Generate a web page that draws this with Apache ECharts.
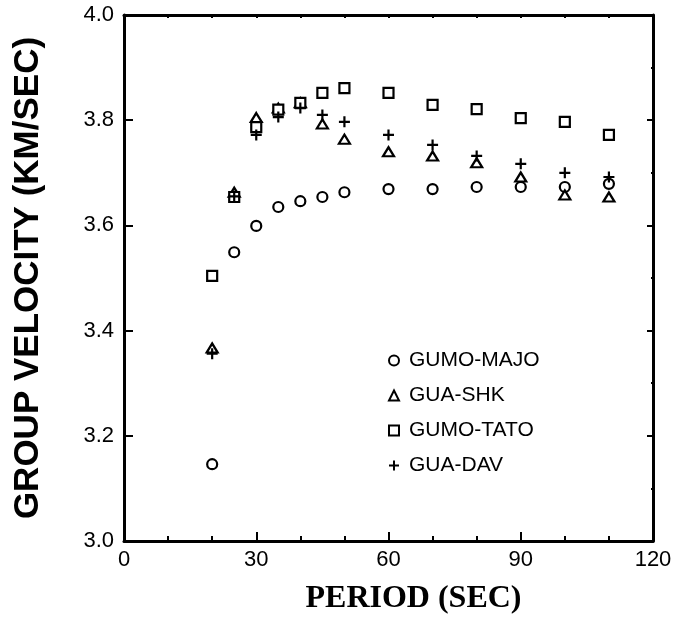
<!DOCTYPE html>
<html>
<head>
<meta charset="utf-8">
<script src="https://cdn.jsdelivr.net/npm/echarts@6/dist/echarts.min.js"></script>
<style>
  html, body { margin: 0; padding: 0; background: #fff; }
  #chart { width: 678px; height: 620px; }
</style>
</head>
<body>
<div id="chart"></div>
<script>
// periods (sec)
var periods = [20, 25, 30, 35, 40, 45, 50, 60, 70, 80, 90, 100, 110];
// group velocity (km/sec)
var gumoMajo = [3.146, 3.549, 3.599, 3.635, 3.646, 3.654, 3.663, 3.669, 3.669, 3.673, 3.673, 3.673, 3.679];
var guaShk   = [3.367, 3.663, 3.805, 3.823, 3.833, 3.793, 3.764, 3.740, 3.732, 3.719, 3.692, 3.658, 3.654];
var gumoTato = [3.504, 3.654, 3.787, 3.820, 3.833, 3.852, 3.861, 3.852, 3.829, 3.821, 3.804, 3.797, 3.772];
var guaDav   = [3.356, 3.655, 3.772, 3.806, 3.823, 3.810, 3.797, 3.772, 3.753, 3.732, 3.717, 3.700, 3.692];

var seriesNames = ['GUMO-MAJO', 'GUA-SHK', 'GUMO-TATO', 'GUA-DAV'];
var xTicks = [0, 30, 60, 90, 120];

function pairs(vals) {
  return periods.map(function (p, i) { return [p, vals[i]]; });
}

var plusPath = 'path://M4,0H6V4H10V6H6V10H4V6H0V4H4Z';
var openStyle = { color: '#fff', borderColor: '#000', borderWidth: 2.2, opacity: 1 };

var chart = echarts.init(document.getElementById('chart'));

var axisCommon = {
  axisLine: { show: true, onZero: false, lineStyle: { color: '#000', width: 3 } },
  splitLine: { show: false }
};

chart.setOption({
  backgroundColor: '#fff',
  animation: false,
  textStyle: { fontFamily: 'Liberation Sans' },
  grid: { left: 124, right: 25, top: 15, bottom: 79 },
  legend: {
    orient: 'vertical',
    left: 383,
    top: 345,
    itemWidth: 10,
    itemHeight: 10,
    itemGap: 14,
    data: seriesNames,
    textStyle: { fontSize: 21, color: '#000', fontFamily: 'Liberation Sans', padding: [0, 0, 0, 5] }
  },
  xAxis: [
    Object.assign({}, axisCommon, {
      type: 'value',
      position: 'bottom',
      min: 0, max: 120, interval: 30,
      name: 'PERIOD (SEC)',
      nameLocation: 'middle',
      nameGap: 42,
      nameTextStyle: { fontFamily: 'Liberation Serif', fontWeight: 'bold', fontSize: 32, color: '#000', padding: [0, 0, 0, 50] },
      axisTick: { inside: true, length: 9, lineStyle: { color: '#000', width: 2 } },
      minorTick: { show: true, splitNumber: 3, length: 5, lineStyle: { color: '#000', width: 2 } },
      axisLabel: {
        fontSize: 22, color: '#000', margin: 8,
        formatter: function (v) { return xTicks.indexOf(v) >= 0 ? String(v) : ''; }
      }
    }),
    Object.assign({}, axisCommon, {
      type: 'value',
      position: 'top',
      min: 0, max: 120, interval: 10,
      axisTick: { inside: true, length: 3, lineStyle: { color: '#000', width: 2 } },
      axisLabel: { show: false }
    })
  ],
  yAxis: [
    Object.assign({}, axisCommon, {
      type: 'value',
      position: 'left',
      min: 3, max: 4, interval: 0.2,
      name: 'GROUP VELOCITY (KM/SEC)',
      nameLocation: 'middle',
      nameRotate: 90,
      nameGap: 78,
      nameTextStyle: { fontFamily: 'Liberation Sans', fontWeight: 'bold', fontSize: 35, color: '#000' },
      axisTick: { inside: true, length: 9, lineStyle: { color: '#000', width: 2 } },
      minorTick: { show: true, splitNumber: 2, length: 2, lineStyle: { color: '#000', width: 2 } },
      axisLabel: {
        fontSize: 22, color: '#000', margin: 10,
        formatter: function (v) { return v.toFixed(1); }
      }
    }),
    Object.assign({}, axisCommon, {
      type: 'value',
      position: 'right',
      min: 3, max: 4, interval: 0.2,
      axisTick: { inside: true, length: 6, lineStyle: { color: '#000', width: 2 } },
      minorTick: { show: true, splitNumber: 2, length: 2, lineStyle: { color: '#000', width: 2 } },
      axisLabel: { show: false }
    })
  ],
  series: [
    {
      name: 'GUMO-MAJO', type: 'scatter', symbol: 'circle', symbolSize: 10,
      itemStyle: openStyle, data: pairs(gumoMajo)
    },
    {
      name: 'GUA-SHK', type: 'scatter', symbol: 'triangle', symbolSize: [11, 9],
      itemStyle: openStyle, data: pairs(guaShk)
    },
    {
      name: 'GUMO-TATO', type: 'scatter', symbol: 'rect', symbolSize: 10,
      itemStyle: openStyle, data: pairs(gumoTato)
    },
    {
      name: 'GUA-DAV', type: 'scatter', symbol: plusPath, symbolSize: 11,
      itemStyle: { color: '#000', opacity: 1 }, data: pairs(guaDav)
    }
  ]
});
</script>
</body>
</html>
